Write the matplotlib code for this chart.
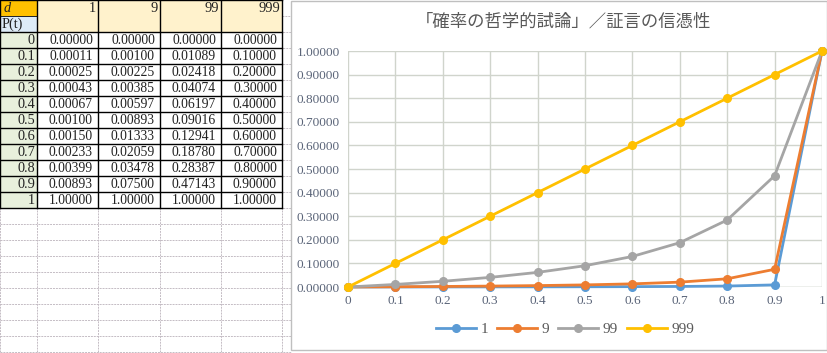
import matplotlib
matplotlib.use("Agg")
import matplotlib.pyplot as plt
from matplotlib.patches import Rectangle

# ---- data ----
p_t = [0, 0.1, 0.2, 0.3, 0.4, 0.5, 0.6, 0.7, 0.8, 0.9, 1]
p_labels = ["0", "0.1", "0.2", "0.3", "0.4", "0.5", "0.6", "0.7", "0.8", "0.9", "1"]
d_values = ["1", "9", "99", "999"]
s_1 = [0.00000, 0.00011, 0.00025, 0.00043, 0.00067, 0.00100, 0.00150, 0.00233, 0.00399, 0.00893, 1.00000]
s_9 = [0.00000, 0.00100, 0.00225, 0.00385, 0.00597, 0.00893, 0.01333, 0.02059, 0.03478, 0.07500, 1.00000]
s_99 = [0.00000, 0.01089, 0.02418, 0.04074, 0.06197, 0.09016, 0.12941, 0.18780, 0.28387, 0.47143, 1.00000]
s_999 = [0.00000, 0.10000, 0.20000, 0.30000, 0.40000, 0.50000, 0.60000, 0.70000, 0.80000, 0.90000, 1.00000]
series = [s_1, s_9, s_99, s_999]
colors = ["#5B9BD5", "#ED7D31", "#A5A5A5", "#FFC000"]
title = "「確率の哲学的試論」／証言の信憑性"

W, H = 828, 353
fig = plt.figure(figsize=(W / 100, H / 100), dpi=100)
bg = fig.add_axes([0, 0, 1, 1])
bg.set_xlim(0, W)
bg.set_ylim(H, 0)
bg.axis("off")

col_x = [0, 37, 98, 160, 221, 282, 343]
row_h = 16
hdr_h = 32
serif = "Liberation Serif"
fs = 9.8

# empty spreadsheet grid
grid_c = "#C4BCC4"
y = hdr_h
while y <= H:
    bg.plot([0, 291], [y, y], color=grid_c, lw=0.7, ls=(0, (2, 1)), zorder=1)
    y += row_h
bg.plot([282, 291], [16, 16], color=grid_c, lw=0.7, ls=(0, (2, 1)), zorder=1)
for x in col_x[:6]:
    bg.plot([x, x], [0, H], color=grid_c, lw=0.7, ls=(0, (2, 1)), zorder=1)

# header cells
bg.add_patch(Rectangle((0, 0), 37, 16, facecolor="#FFC000", edgecolor="none", zorder=2))
bg.add_patch(Rectangle((0, 16), 37, 16, facecolor="#DDEBF7", edgecolor="none", zorder=2))
bg.text(4, 8, "d", fontsize=fs + 0.5, family=serif, style="italic", va="center", ha="left", color="#222222", zorder=3)
bg.text(2, 24.5, "P(t)", fontsize=fs + 0.5, family=serif, va="center", ha="left", color="#222222", zorder=3)
for j, dv in enumerate(d_values):
    x0, x1 = col_x[j + 1], col_x[j + 2]
    bg.add_patch(Rectangle((x0, 0), x1 - x0, hdr_h, facecolor="#FFF2CC", edgecolor="none", zorder=2))
    bg.text(x1 - 2, 8.5, dv, fontsize=fs + 0.5, family=serif, va="center", ha="right", color="#222222", zorder=3)

# data rows
for i, lab in enumerate(p_labels):
    y0 = hdr_h + i * row_h
    bg.add_patch(Rectangle((0, y0), 37, row_h, facecolor="#E8F0DC", edgecolor="none", zorder=2))
    bg.add_patch(Rectangle((37, y0), 245, row_h, facecolor="white", edgecolor="none", zorder=2))
    bg.text(35, y0 + 8.5, lab, fontsize=fs + 0.5, family=serif, va="center", ha="right", color="#222222", zorder=3)
    for j, s in enumerate(series):
        x0, x1 = col_x[j + 1], col_x[j + 2]
        bg.text(x1 - 5, y0 + 8.5, f"{s[i]:.5f}", fontsize=fs, family=serif, va="center", ha="right",
                color="#222222", zorder=3)

# borders of table
tbl_bottom = hdr_h + len(p_labels) * row_h
for x in col_x[:6]:
    bg.plot([x, x], [0, tbl_bottom], color="black", lw=1.0, zorder=4)
for y in [0, 16, hdr_h] + [hdr_h + i * row_h for i in range(1, len(p_labels) + 1)]:
    if y == 16:
        bg.plot([0, 37], [y, y], color="black", lw=0.6, zorder=4)
    else:
        bg.plot([0, 282], [y, y], color="black", lw=1.0, zorder=4)

# chart box
bg.add_patch(Rectangle((291, 1), 536, 349, facecolor="white", edgecolor="#BFBFBF", lw=1.0, zorder=5))

# chart axes
L, R, T, B = 348, 822, 51, 287
ax = fig.add_axes([L / W, 1 - B / H, (R - L) / W, (B - T) / H], zorder=6)
ax.set_facecolor("none")
for s, c, name in zip(series, colors, d_values):
    ax.plot(p_t, s, color=c, lw=2, marker="o", ms=5.5, label=name, zorder=3, clip_on=False)
ax.set_xlim(0, 1)
ax.set_ylim(0, 1)
ax.set_xticks(p_t)
ax.set_xticklabels(p_labels)
ax.set_yticks([k / 10 for k in range(11)])
ax.set_yticklabels([f"{k / 10:.5f}" for k in range(11)])
ax.grid(True, color="#D0D4CC", lw=1.0)
ax.set_axisbelow(True)
for sp in ax.spines.values():
    sp.set_visible(False)
ax.tick_params(length=0, labelsize=9.5, colors="#5A6478", pad=6)
for lab in ax.get_xticklabels() + ax.get_yticklabels():
    lab.set_family(serif)
ax.axhline(0, color="#D0D4CC", lw=1.0, zorder=1)

fig.text(563 / W, 1 - 22 / H, title, fontsize=12.5, family=["Noto Sans CJK JP", "DejaVu Sans"],
         color="#595959", ha="center", va="center", zorder=7)

leg = ax.legend(loc="center", bbox_to_anchor=(565 / W, 1 - 329 / H), bbox_transform=fig.transFigure,
                ncol=4, frameon=False, prop={"family": serif, "size": 11}, handlelength=2.6,
                columnspacing=0.6, handletextpad=0.3)
for t in leg.get_texts():
    t.set_color("#595959")

fig.savefig("out.png", dpi=100)
